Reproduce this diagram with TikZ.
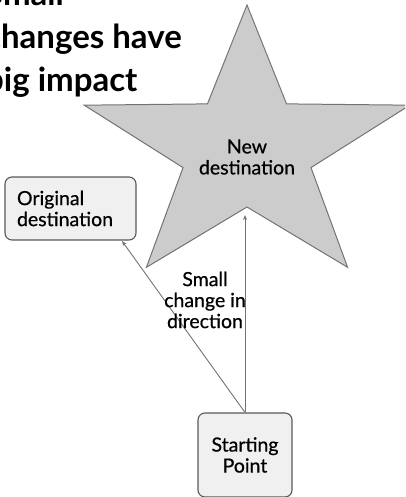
\documentclass[tikz,border=0pt]{standalone}
\usepackage{fontspec}
\setmainfont{Lato}
\usetikzlibrary{arrows.meta}
\begin{document}
\begin{tikzpicture}[x=1pt,y=1pt,
  txt/.style={font=\fontsize{19.5}{21}\selectfont\addfontfeatures{FakeBold=0.6}, text=black, inner sep=0pt},
  roundbox/.style={draw=black!65, fill=black!6, line width=1.1pt, rounded corners=7pt},
  link/.style={draw=black!55, line width=0.9pt, -{Stealth[length=5pt,width=4pt]}},
  starshape/.style={draw=black!55, fill=black!20, line width=1pt}]
\useasboundingbox (0,0) rectangle (405,497);
\clip (0,0) rectangle (405,497);
% heading, running off the left and top edges
\node[font=\bfseries\fontsize{33}{43}\selectfont, align=left, anchor=base west, inner sep=0pt] (title) at (-15,405) {Small\\changes have\\big impact};
% five-pointed star, stretched sideways
\begin{scope}[shift={(247,347)}, xscale=1.18]
  \draw[starshape] (90:145) -- (126:57) -- (162:145) -- (198:57) -- (234:145) -- (270:57)
    -- (306:145) -- (342:57) -- (18:145) -- (54:57) -- cycle;
\end{scope}
\node[txt, align=center] (new) at (247,340) {New\\destination};
% boxes
\node[roundbox, txt, minimum width=131pt, minimum height=63pt, text width=107pt, align=left] (orig) at (70.5,288.5) {Original\\destination};
\node[roundbox, txt, minimum width=94pt, minimum height=84pt, align=center] (start) at (245,42) {Starting\\Point};
% arrow targets
\coordinate (newtip) at (245,282);
\coordinate (origtip) at (122,256);
\draw[link] (start.north) -- (newtip);
\draw[link] (start.north) -- (origtip);
\node[txt, align=center] (turn) at (205,197) {Small\\change in\\direction};
\end{tikzpicture}
\end{document}
